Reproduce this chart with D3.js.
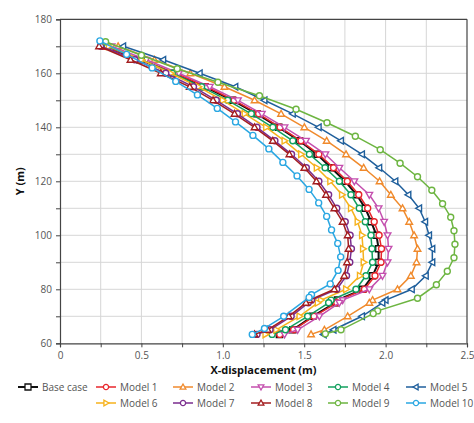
<!DOCTYPE html>
<html><head><meta charset="utf-8">
<script src="https://cdn.jsdelivr.net/npm/d3@7"></script>
<style>body{margin:0;background:#fff;}svg{display:block;font-family:"Open Sans",sans-serif;}</style>
</head><body><svg id="c" width="474" height="423"></svg>
<script>
const seriesNames = ["Base case","Model 1","Model 2","Model 3","Model 4","Model 5","Model 6","Model 7","Model 8","Model 9","Model 10"];
const seriesColors = ["#111111","#e8262c","#f08a2c","#c44fae","#12a05e","#1f5f9c","#f6b21c","#7a2d8e","#a31d1f","#6db541","#2aa7e2"];
const seriesSymbols = ["square","circle","triUp","triDown","circle","triLeft","triRight","circle","triUp","circle","circle"];

const yStd = [170,165,160,155,150,145,140,135,130,125,120,115,110,105,100,95,90,85,80,76,75,70,65,63.3];
const yModel9 = [171.7,166.7,161.7,156.7,151.7,146.7,141.7,136.7,131.7,126.7,121.7,116.7,111.7,106.7,101.7,96.7,91.7,86.7,81.7,76.7,72,71,65,63.5];
const yModel10 = [172,167,162,157,152,147,142,137,132,127,122,117,112,107,102,97,92,87,82,78,77,70,65.5,63.3];

const xBase   = [0.27,0.49,0.70,0.89,1.06,1.21,1.344,1.471,1.579,1.665,1.752,1.822,1.875,1.912,1.944,1.957,1.957,1.92,1.859,1.705,1.69,1.552,1.43,1.348];
const xModel1 = [0.27,0.50,0.71,0.90,1.07,1.22,1.352,1.48,1.59,1.68,1.765,1.835,1.89,1.93,1.96,1.975,1.972,1.935,1.87,1.715,1.70,1.56,1.435,1.35];
const xModel2 = [0.357,0.58,0.80,1.01,1.195,1.358,1.501,1.638,1.757,1.865,1.963,2.032,2.104,2.145,2.175,2.196,2.19,2.155,2.073,1.92,1.90,1.767,1.624,1.542];
const xModel3 = [0.317,0.53,0.73,0.92,1.093,1.24,1.379,1.511,1.63,1.716,1.808,1.9,1.957,1.991,2.012,2.018,2.012,1.981,1.9,1.736,1.716,1.593,1.46,1.379];
const xModel4 = [0.29,0.50,0.69,0.87,1.03,1.175,1.307,1.43,1.532,1.628,1.716,1.787,1.838,1.875,1.91,1.916,1.92,1.879,1.818,1.665,1.65,1.521,1.385,1.303];
const xModel5 = [0.388,0.634,0.858,1.077,1.256,1.43,1.589,1.726,1.855,1.961,2.06,2.14,2.206,2.243,2.267,2.287,2.287,2.247,2.161,2.0,1.98,1.855,1.68,1.62];
const xModel6 = [0.30,0.50,0.68,0.85,1.00,1.134,1.266,1.379,1.481,1.577,1.66,1.732,1.787,1.828,1.855,1.861,1.865,1.842,1.757,1.603,1.583,1.471,1.328,1.262];
const xModel7 = [0.25,0.46,0.65,0.82,0.96,1.09,1.21,1.32,1.422,1.513,1.59,1.65,1.70,1.752,1.782,1.79,1.78,1.76,1.70,1.545,1.525,1.42,1.29,1.21];
const xModel8 = [0.24,0.433,0.619,0.797,0.94,1.072,1.195,1.307,1.409,1.501,1.575,1.634,1.685,1.736,1.767,1.773,1.763,1.746,1.685,1.532,1.511,1.405,1.276,1.195];
const xModel9 = [0.28,0.50,0.72,0.97,1.225,1.45,1.64,1.814,1.967,2.089,2.196,2.284,2.35,2.40,2.42,2.426,2.42,2.379,2.312,2.196,1.951,1.924,1.726,1.63];
const xModel10= [0.245,0.409,0.566,0.711,0.844,0.966,1.078,1.185,1.283,1.369,1.456,1.53,1.589,1.638,1.668,1.706,1.724,1.708,1.66,1.545,1.53,1.374,1.256,1.181];

const xTicks = [0,0.5,1.0,1.5,2.0,2.5];
const xTickLabels = ["0","0.5","1.0","1.5","2.0","2.5"];
const yTicks = [60,80,100,120,140,160,180];

const xs = [xBase,xModel1,xModel2,xModel3,xModel4,xModel5,xModel6,xModel7,xModel8,xModel9,xModel10];
const ys = [yStd,yStd,yStd,yStd,yStd,yStd,yStd,yStd,yStd,yModel9,yModel10];

const svg = d3.select("#c");
const L=60,R=467,T=19.3,B=343.3;
const x = d3.scaleLinear().domain([0,2.5]).range([L,R]);
const y = d3.scaleLinear().domain([60,180]).range([B,T]);

const g = svg.append("g");
g.selectAll(".vg").data(d3.range(0.25,2.5,0.25)).join("line")
 .attr("x1",d=>x(d)).attr("x2",d=>x(d)).attr("y1",T).attr("y2",B)
 .attr("stroke","#d6d6d6").attr("stroke-width",1);
g.selectAll(".hg").data(d3.range(70,180,10)).join("line")
 .attr("x1",L).attr("x2",R).attr("y1",d=>y(d)).attr("y2",d=>y(d))
 .attr("stroke","#d6d6d6").attr("stroke-width",1);

svg.append("line").attr("x1",L).attr("x2",R).attr("y1",T).attr("y2",T).attr("stroke","#444").attr("stroke-width",1.2);
svg.append("line").attr("x1",R).attr("x2",R).attr("y1",T).attr("y2",B).attr("stroke","#444").attr("stroke-width",1.2);

const xAxis = d3.axisBottom(x).tickValues(d3.range(0,2.51,0.25)).tickSize(4)
  .tickFormat(d=>{const i=xTicks.findIndex(t=>Math.abs(t-d)<1e-6);return i>=0?xTickLabels[i]:"";});
const xa = svg.append("g").attr("transform",`translate(0,${B})`).call(xAxis);
const yAxis = d3.axisLeft(y).tickValues(d3.range(60,181,10)).tickSize(4)
  .tickFormat(d=>yTicks.includes(d)?String(d):"");
const ya = svg.append("g").attr("transform",`translate(${L},0)`).call(yAxis);
[xa,ya].forEach(a=>{
  a.select(".domain").attr("stroke","#444").attr("stroke-width",1.2);
  a.selectAll(".tick line").attr("stroke","#444");
  a.selectAll("text").attr("fill","#555").attr("font-size",10).attr("font-family","Open Sans, sans-serif");
});
xa.selectAll("text").attr("dy","0.9em");
ya.selectAll("text").attr("dx","-1");

svg.append("text").attr("x",(L+R)/2).attr("y",374).attr("text-anchor","middle")
 .attr("font-size",11).attr("font-weight","bold").attr("fill","#111").text("X-displacement (m)");
svg.append("text").attr("transform",`translate(24,${(T+B)/2}) rotate(-90)`).attr("text-anchor","middle")
 .attr("font-size",11).attr("font-weight","bold").attr("fill","#111").text("Y (m)");

function symPath(sym, s){
  switch(sym){
    case "square": return `M${-s},${-s}H${s}V${s}H${-s}Z`;
    case "circle": return `M${s},0A${s},${s} 0 1,1 ${-s},0A${s},${s} 0 1,1 ${s},0Z`;
    case "triUp": return `M0,${-s*1.15}L${s*1.1},${s*0.8}L${-s*1.1},${s*0.8}Z`;
    case "triDown": return `M0,${s*1.15}L${s*1.1},${-s*0.8}L${-s*1.1},${-s*0.8}Z`;
    case "triLeft": return `M${-s*1.15},0L${s*0.8},${-s*1.1}L${s*0.8},${s*1.1}Z`;
    case "triRight": return `M${s*1.15},0L${-s*0.8},${-s*1.1}L${-s*0.8},${s*1.1}Z`;
  }
}

const line = d3.line().x(d=>x(d[0])).y(d=>y(d[1]));
seriesNames.forEach((name,i)=>{
  const pts = xs[i].map((v,k)=>[v,ys[i][k]]);
  const col = seriesColors[i];
  const sg = svg.append("g");
  sg.append("path").attr("d",line(pts)).attr("fill","none").attr("stroke",col).attr("stroke-width",i===0?2:1.5);
  sg.selectAll("path.m").data(pts).join("path").attr("class","m")
    .attr("transform",d=>`translate(${x(d[0])},${y(d[1])})`)
    .attr("d",symPath(seriesSymbols[i], i===0?3:3))
    .attr("fill","#fff").attr("stroke",col).attr("stroke-width",i===0?1.6:1.4);
});

const legCols = [18,96,173,251,328,406];
const legItems = seriesNames.map((n,i)=>{
  const row = i<6?0:1;
  const col = i<6?i:i-5;
  return {n,i,lx:legCols[col],ly:row===0?387:403};
});
const lg = svg.append("g");
legItems.forEach(d=>{
  const col = seriesColors[d.i];
  lg.append("line").attr("x1",d.lx).attr("x2",d.lx+20).attr("y1",d.ly).attr("y2",d.ly)
    .attr("stroke",col).attr("stroke-width",d.i===0?2:1.5);
  lg.append("path").attr("transform",`translate(${d.lx+10},${d.ly})`)
    .attr("d",symPath(seriesSymbols[d.i], d.i===0?3:2.6)).attr("fill","#fff").attr("stroke",col).attr("stroke-width",1.3);
  lg.append("text").attr("x",d.lx+24).attr("y",d.ly).attr("dy","0.35em")
    .attr("font-size",10).attr("fill","#555").text(d.n);
});
</script></body></html>
